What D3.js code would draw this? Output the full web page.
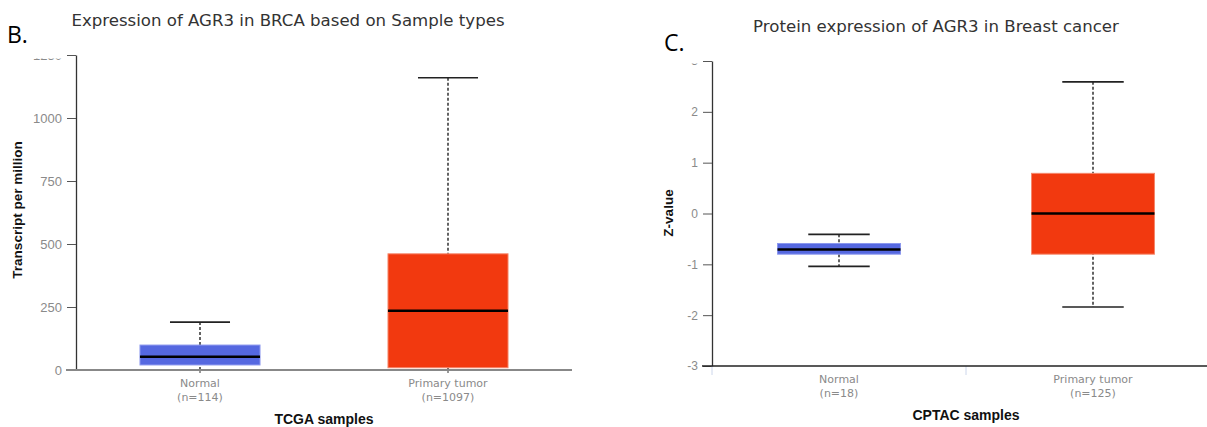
<!DOCTYPE html>
<html>
<head>
<meta charset="utf-8">
<script src="https://cdn.jsdelivr.net/npm/d3@7"></script>
<style>
  body { margin: 0; background: #fff; }
  svg { display: block; }
</style>
</head>
<body>
<div id="chart"></div>
<script>
// ---- data ----
// panel B: TCGA
var tcgaCats = ["Normal", "Primary tumor"];
var tcgaN = [114, 1097];
var tcgaMin = [0, 0];
var tcgaQ1 = [20, 9];
var tcgaMed = [53, 235];
var tcgaQ3 = [99, 461];
var tcgaMax = [190, 1160];
var tcgaTicks = [0, 250, 500, 750, 1000, 1250];

// panel C: CPTAC
var cptacCats = ["Normal", "Primary tumor"];
var cptacN = [18, 125];
var cptacMin = [-1.04, -1.84];
var cptacQ1 = [-0.80, -0.80];
var cptacMed = [-0.71, 0.0];
var cptacQ3 = [-0.59, 0.79];
var cptacMax = [-0.41, 2.59];
var cptacTicks = [-3, -2, -1, 0, 1, 2, 3];

var boxColors = ["#5568e0", "#f2390f"];
var boxEdges = ["#8b97ee", "#f6876b"];

var W = 1207, H = 427;
var svg = d3.select("#chart").append("svg")
  .attr("width", W).attr("height", H);

var tickFont = "'Liberation Sans', Arial, sans-serif";
var titleFont = "'DejaVu Sans', Verdana, sans-serif";

// draws one panel of box plots
function drawPanel(opt) {
  var g = svg.append("g");

  var x = d3.scaleBand().domain(opt.cats).range(opt.xRange).padding(0);
  var y = d3.scaleLinear().domain(opt.yDomain).range(opt.yRange);

  var rows = opt.cats.map(function(c, i) {
    return {cat: c, n: opt.n[i], min: opt.min[i], q1: opt.q1[i], med: opt.med[i],
            q3: opt.q3[i], max: opt.max[i], i: i};
  });

  var bw = x.bandwidth() * 0.484;
  var cw = bw / 2;

  // panel letter and title
  svg.append("text").attr("x", opt.letterX).attr("y", opt.letterY)
    .style("font-family", "'Open Sans', 'Liberation Sans', sans-serif")
    .style("font-size", "23px").attr("fill", "#000").text(opt.letter);
  svg.append("text").attr("x", opt.titleX).attr("y", opt.titleY)
    .attr("text-anchor", "middle")
    .style("font-family", titleFont).style("font-size", opt.titleSize)
    .attr("fill", "#333").text(opt.title);

  // y axis
  var yAxis = g.append("g")
    .attr("transform", "translate(" + opt.xRange[0] + ",0)")
    .call(d3.axisLeft(y).tickValues(opt.ticks).tickSize(9).tickPadding(5).tickSizeOuter(0)
      .tickFormat(function(d) { return String(d); }));
  yAxis.select(".domain").attr("stroke", "#333").attr("stroke-width", 1.3);
  yAxis.selectAll(".tick line").attr("stroke", "#555");
  yAxis.selectAll(".tick text")
    .attr("fill", "#8a8a8a")
    .style("font-family", tickFont).style("font-size", opt.tickSize);

  // the top tick label is cut off in the original picture
  var top = opt.ticks[opt.ticks.length - 1];
  var clipId = "clip" + opt.letter.replace(".", "");
  yAxis.append("clipPath").attr("id", clipId).append("rect")
    .attr("x", -60).attr("y", opt.clipTop - y(top))
    .attr("width", 60).attr("height", 30);
  yAxis.selectAll(".tick").filter(function(d) { return d === top; })
    .select("text").attr("clip-path", "url(#" + clipId + ")");

  // axis titles
  g.append("text")
    .attr("transform", "translate(" + opt.yTitleX + "," + opt.yTitleY + ") rotate(-90)")
    .attr("text-anchor", "middle")
    .style("font-family", tickFont).style("font-weight", "bold").style("font-size", "13.5px")
    .attr("fill", "#111").text(opt.yTitle);
  g.append("text")
    .attr("x", (opt.xRange[0] + opt.xRange[1]) / 2).attr("y", opt.xTitleY)
    .attr("text-anchor", "middle")
    .style("font-family", tickFont).style("font-weight", "bold").style("font-size", "14px")
    .attr("fill", "#111").text(opt.xTitle);

  // whiskers
  var box = g.selectAll(".box").data(rows).enter().append("g").attr("class", "box");
  box.append("line")
    .attr("x1", function(d) { return x(d.cat) + x.bandwidth() / 2; })
    .attr("x2", function(d) { return x(d.cat) + x.bandwidth() / 2; })
    .attr("y1", function(d) { return y(d.max); })
    .attr("y2", function(d) { return y(d.min); })
    .attr("stroke", "#222").attr("stroke-width", 1.4).attr("stroke-dasharray", "3,2");
  [ "max", "min" ].forEach(function(k) {
    box.append("line")
      .attr("x1", function(d) { return x(d.cat) + x.bandwidth() / 2 - cw / 2; })
      .attr("x2", function(d) { return x(d.cat) + x.bandwidth() / 2 + cw / 2; })
      .attr("y1", function(d) { return y(d[k]); })
      .attr("y2", function(d) { return y(d[k]); })
      .attr("stroke", "#222").attr("stroke-width", 1.6);
  });
  box.append("rect")
    .attr("x", function(d) { return x(d.cat) + (x.bandwidth() - bw) / 2; })
    .attr("width", bw)
    .attr("y", function(d) { return y(d.q3); })
    .attr("height", function(d) { return y(d.q1) - y(d.q3); })
    .attr("fill", function(d) { return boxColors[d.i]; })
    .attr("stroke", function(d) { return boxEdges[d.i]; })
    .attr("stroke-width", 1);
  box.append("line")
    .attr("x1", function(d) { return x(d.cat) + (x.bandwidth() - bw) / 2; })
    .attr("x2", function(d) { return x(d.cat) + (x.bandwidth() + bw) / 2; })
    .attr("y1", function(d) { return y(d.med); })
    .attr("y2", function(d) { return y(d.med); })
    .attr("stroke", "#000").attr("stroke-width", 2.5);

  // x axis
  var y0 = opt.yRange[0];
  if (opt.bandTicks) {
    var b = opt.cats.map(function(c) { return x(c); });
    g.selectAll(".btick").data(b).enter().append("line")
      .attr("x1", function(d) { return d; }).attr("x2", function(d) { return d; })
      .attr("y1", y0).attr("y2", y0 + 9)
      .attr("stroke", "#ccd6eb").attr("stroke-width", 1);
  } else {
    g.selectAll(".ctick").data(opt.cats).enter().append("line")
      .attr("x1", function(d) { return x(d) + x.bandwidth() / 2; })
      .attr("x2", function(d) { return x(d) + x.bandwidth() / 2; })
      .attr("y1", y0).attr("y2", y0 + 3)
      .attr("stroke", "#333").attr("stroke-width", 1);
  }
  g.append("line")
    .attr("x1", opt.xRange[0] - 10).attr("x2", opt.xLineEnd)
    .attr("y1", y0).attr("y2", y0)
    .attr("stroke", opt.xLineColor).attr("stroke-width", opt.xLineWidth);

  var lab = g.selectAll(".xlab").data(rows).enter().append("text")
    .attr("text-anchor", "middle")
    .style("font-family", titleFont).style("font-size", "11px")
    .attr("fill", "#8a8a8a");
  lab.append("tspan")
    .attr("x", function(d) { return x(d.cat) + x.bandwidth() / 2; })
    .attr("y", y0 + 17)
    .text(function(d) { return d.cat; });
  lab.append("tspan")
    .attr("x", function(d) { return x(d.cat) + x.bandwidth() / 2; })
    .attr("y", y0 + 31)
    .text(function(d) { return "(n=" + d.n + ")"; });
}

drawPanel({
  letter: "B.", letterX: 7, letterY: 43,
  title: "Expression of AGR3 in BRCA based on Sample types", titleX: 288, titleY: 26, titleSize: "16.6px",
  cats: tcgaCats, n: tcgaN, min: tcgaMin, q1: tcgaQ1, med: tcgaMed, q3: tcgaQ3, max: tcgaMax,
  ticks: tcgaTicks, yDomain: [0, 1250], yRange: [370, 55], xRange: [76, 572],
  clipTop: 58, tickSize: "13px",
  yTitle: "Transcript per million", yTitleX: 22, yTitleY: 210,
  xTitle: "TCGA samples", xTitleY: 424,
  xLineEnd: 572, xLineColor: "#888", xLineWidth: 2, bandTicks: false
});

drawPanel({
  letter: "C.", letterX: 664, letterY: 51,
  title: "Protein expression of AGR3 in Breast cancer", titleX: 936, titleY: 32, titleSize: "16.6px",
  cats: cptacCats, n: cptacN, min: cptacMin, q1: cptacQ1, med: cptacMed, q3: cptacQ3, max: cptacMax,
  ticks: cptacTicks, yDomain: [-3, 3], yRange: [366, 61], xRange: [712, 1220],
  clipTop: 63, tickSize: "12px",
  yTitle: "Z-value", yTitleX: 673, yTitleY: 213,
  xTitle: "CPTAC samples", xTitleY: 420,
  xLineEnd: 1207, xLineColor: "#222", xLineWidth: 1.5, bandTicks: true
});
</script>
</body>
</html>
